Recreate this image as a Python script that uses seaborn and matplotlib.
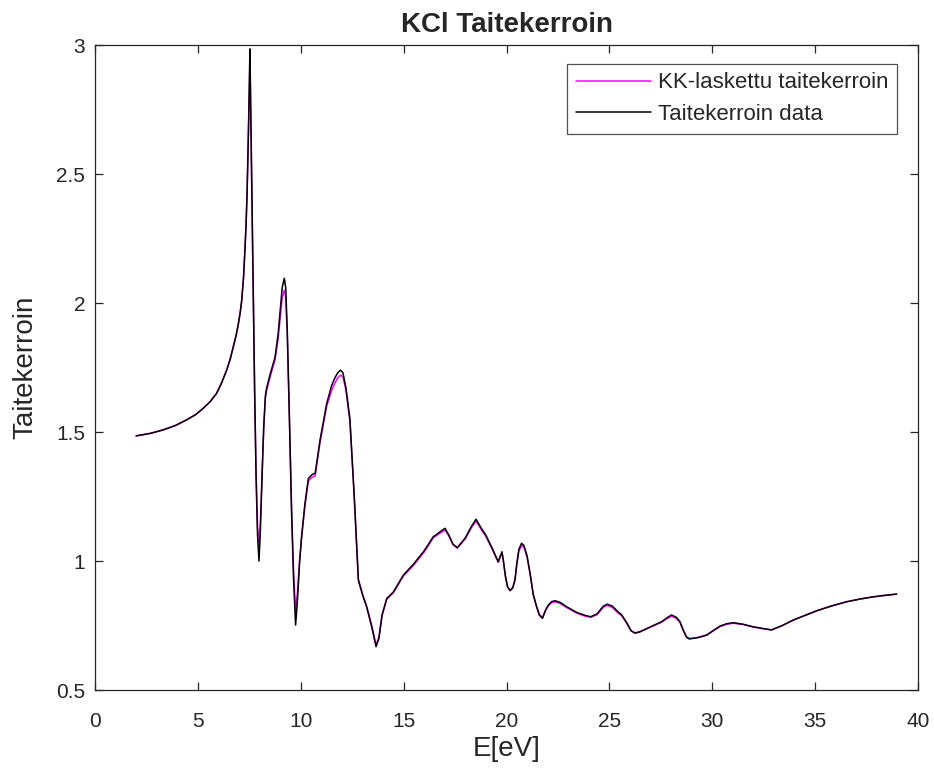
import numpy as np
import pandas as pd
import matplotlib
matplotlib.use("Agg")
import matplotlib.pyplot as plt
import seaborn as sns

# Photon energy grid (eV)
energy = [
    2.0, 2.7, 3.3, 3.9, 4.45, 4.9, 5.26, 5.6, 5.91, 6.15, 6.4, 6.58, 6.72, 6.86,
    6.97, 7.06, 7.13, 7.22, 7.29, 7.34, 7.39, 7.44, 7.49, 7.53, 7.57, 7.62, 7.69,
    7.76, 7.83, 7.9, 7.97, 8.04, 8.12, 8.2, 8.28, 8.34, 8.5, 8.75, 8.9, 9.0, 9.1,
    9.2, 9.27, 9.35, 9.45, 9.55, 9.65, 9.75, 9.85, 9.94, 10.04, 10.2, 10.37, 10.55,
    10.7, 10.94, 11.26, 11.5, 11.66, 11.8, 11.93, 12.05, 12.2, 12.39, 12.6, 12.8,
    13.0, 13.2, 13.45, 13.66, 13.8, 13.95, 14.18, 14.5, 14.99, 15.5, 16.0, 16.44,
    16.75, 17.01, 17.2, 17.4, 17.61, 17.85, 18.0, 18.3, 18.52, 18.75, 19.0, 19.3,
    19.6, 19.7, 19.78, 19.85, 19.95, 20.05, 20.17, 20.3, 20.41, 20.5, 20.6, 20.73,
    20.85, 21.0, 21.15, 21.3, 21.46, 21.6, 21.75, 21.9, 22.03, 22.2, 22.36, 22.6,
    22.92, 23.41, 23.8, 24.09, 24.4, 24.7, 24.9, 25.15, 25.4, 25.6, 25.85, 26.05,
    26.25, 26.5, 27.0, 27.54, 27.8, 28.02, 28.25, 28.43, 28.6, 28.75, 28.88, 29.3,
    29.73, 30.0, 30.38, 30.7, 31.02, 31.5, 32.0, 32.5, 32.88, 33.4, 33.93, 35.07,
    35.8, 36.52, 37.2, 37.8, 38.4, 38.96,
]

# Measured refractive index of KCl
n_data = [
    1.485, 1.495, 1.508, 1.525, 1.547, 1.568, 1.592, 1.618, 1.65, 1.69, 1.74, 1.785, 1.83, 1.875,
    1.92, 1.965, 2.01, 2.10, 2.21, 2.30, 2.42, 2.60, 2.80, 2.985, 2.75, 2.45, 2.05,
    1.65, 1.32, 1.10, 1.00, 1.12, 1.33, 1.52, 1.64, 1.67, 1.72, 1.79, 1.88, 1.97, 2.06,
    2.096, 2.06, 1.88, 1.55, 1.2, 0.93, 0.752, 0.86, 0.99, 1.094, 1.22, 1.32, 1.335,
    1.34, 1.47, 1.61, 1.68, 1.71, 1.73, 1.74, 1.73, 1.67, 1.55, 1.25, 0.926,
    0.87, 0.823, 0.745, 0.668, 0.70, 0.79, 0.855, 0.88, 0.946, 0.99, 1.04, 1.094,
    1.112, 1.127, 1.1, 1.065, 1.052, 1.075, 1.09, 1.135, 1.162, 1.13, 1.1, 1.05,
    0.997, 1.02, 1.036, 1.0, 0.94, 0.9, 0.885, 0.895, 0.926, 0.99, 1.045, 1.069,
    1.06, 1.02, 0.95, 0.87, 0.823, 0.79, 0.778, 0.81, 0.829, 0.843, 0.846, 0.84,
    0.823, 0.801, 0.79, 0.784, 0.795, 0.825, 0.833, 0.825, 0.805, 0.791, 0.76, 0.73,
    0.72, 0.726, 0.745, 0.765, 0.78, 0.791, 0.782, 0.765, 0.73, 0.705, 0.698, 0.703,
    0.713, 0.728, 0.748, 0.757, 0.761, 0.755, 0.745, 0.738, 0.733, 0.75, 0.771, 0.807,
    0.826, 0.842, 0.853, 0.861, 0.867, 0.872,
]

# Refractive index from the Kramers-Kronig calculation
n_kk = [
    1.485, 1.495, 1.508, 1.525, 1.547, 1.568, 1.592, 1.618, 1.65, 1.69, 1.74, 1.785, 1.83, 1.875,
    1.92, 1.965, 2.01, 2.10, 2.21, 2.30, 2.42, 2.59, 2.77, 2.95, 2.72, 2.43, 2.04,
    1.66, 1.34, 1.13, 1.07, 1.16, 1.34, 1.51, 1.63, 1.66, 1.71, 1.78, 1.86, 1.94, 2.02,
    2.05, 2.02, 1.86, 1.55, 1.22, 0.96, 0.81, 0.89, 1.0, 1.09, 1.21, 1.31, 1.325,
    1.33, 1.46, 1.60, 1.66, 1.69, 1.71, 1.72, 1.715, 1.66, 1.54, 1.25, 0.93,
    0.872, 0.826, 0.75, 0.675, 0.705, 0.79, 0.852, 0.877, 0.942, 0.985, 1.035, 1.09,
    1.107, 1.12, 1.097, 1.063, 1.05, 1.072, 1.087, 1.13, 1.155, 1.125, 1.095, 1.047,
    0.995, 1.018, 1.03, 0.998, 0.94, 0.9, 0.888, 0.897, 0.926, 0.985, 1.038, 1.06,
    1.052, 1.015, 0.948, 0.87, 0.825, 0.792, 0.782, 0.81, 0.826, 0.84, 0.842, 0.836,
    0.82, 0.798, 0.787, 0.782, 0.792, 0.82, 0.828, 0.82, 0.80, 0.788, 0.758, 0.73,
    0.722, 0.727, 0.744, 0.763, 0.777, 0.786, 0.778, 0.762, 0.73, 0.707, 0.70, 0.704,
    0.713, 0.727, 0.746, 0.755, 0.759, 0.754, 0.744, 0.737, 0.733, 0.75, 0.771, 0.807,
    0.826, 0.842, 0.853, 0.861, 0.867, 0.872,
]

label_kk = "KK-laskettu taitekerroin"
label_data = "Taitekerroin data"

df = pd.concat([
    pd.DataFrame({"E": energy, "n": n_kk, "series": label_kk}),
    pd.DataFrame({"E": energy, "n": n_data, "series": label_data}),
])

sns.set_style("white")
plt.rcParams["font.family"] = ["Liberation Sans", "DejaVu Sans"]

fig = plt.figure(figsize=(9.34, 7.71), dpi=100)
ax = fig.add_axes([0.1017, 0.105, 0.8812, 0.8366])

sns.lineplot(data=df, x="E", y="n", hue="series", sort=False,
             palette={label_kk: "#ff00ff", label_data: "#000000"},
             linewidth=1.1, ax=ax)

ax.set_xlim(0, 40)
ax.set_ylim(0.5, 3)
ax.set_xticks(np.arange(0, 41, 5))
ax.set_yticks([0.5, 1, 1.5, 2, 2.5, 3])
ax.set_yticklabels(["0.5", "1", "1.5", "2", "2.5", "3"])

axis_col = "#262626"
for s in ax.spines.values():
    s.set_visible(True)
    s.set_color(axis_col)
    s.set_linewidth(0.9)
ax.tick_params(direction="in", length=6, width=0.9, color=axis_col,
               labelcolor=axis_col, labelsize=15, top=True, right=True,
               bottom=True, left=True)
ax.tick_params(axis="x", pad=16)
ax.tick_params(axis="y", pad=7)

ax.set_xlabel("E[eV]", fontsize=20, color=axis_col)
ax.set_ylabel("Taitekerroin", fontsize=20, color=axis_col)
ax.xaxis.set_label_coords(0.5, -0.071)
ax.yaxis.set_label_coords(-0.069, 0.5)
ax.set_title("KCl Taitekerroin", fontsize=20, fontweight="bold", pad=9.4)

leg = ax.legend(loc="upper right", bbox_to_anchor=(0.9745, 0.9705),
                borderaxespad=0, fontsize=16, frameon=True, fancybox=False,
                handlelength=3.4, handletextpad=0.3, borderpad=0.38,
                labelspacing=0.48)
leg.get_frame().set_edgecolor(axis_col)
leg.get_frame().set_linewidth(0.9)
for line in leg.get_lines():
    line.set_linewidth(1.1)

fig.savefig("out.png", dpi=100, facecolor="white")
